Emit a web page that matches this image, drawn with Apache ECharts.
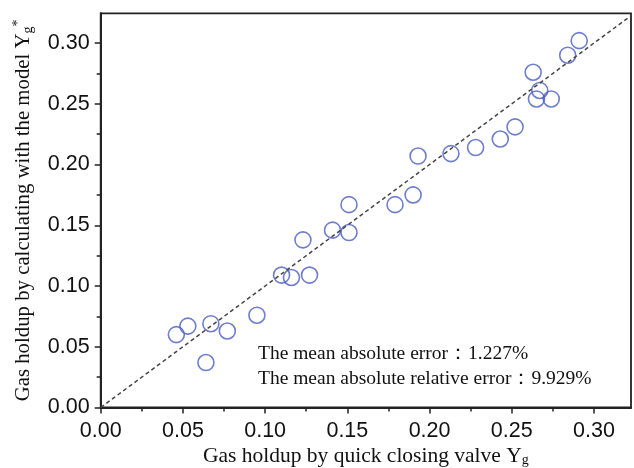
<!DOCTYPE html>
<html>
<head>
<meta charset="utf-8">
<script src="https://cdn.jsdelivr.net/npm/echarts@6/dist/echarts.min.js"></script>
<style>
  html, body { margin: 0; padding: 0; background: #fff; }
</style>
</head>
<body>
<div id="chart" style="width: 634px; height: 468px"></div>
<script>
// measured (quick closing valve) vs model gas holdup
const measured = [0.291, 0.284, 0.263, 0.267, 0.265, 0.274, 0.252, 0.243, 0.228, 0.213, 0.193, 0.190,
  0.179, 0.151, 0.141, 0.151, 0.123, 0.110, 0.116, 0.127, 0.095, 0.067, 0.077, 0.053, 0.046, 0.064];
const model = [0.302, 0.290, 0.276, 0.261, 0.254, 0.254, 0.231, 0.221, 0.214, 0.209, 0.207, 0.175,
  0.167, 0.167, 0.146, 0.144, 0.138, 0.109, 0.107, 0.109, 0.076, 0.069, 0.063, 0.067, 0.060, 0.037];
// y = x reference line
const diagonal = [[0, 0], [0.3225, 0.3225]];
const majorTicks = [0, 0.05, 0.1, 0.15, 0.2, 0.25, 0.3];
const minorTicks = [0.025, 0.075, 0.125, 0.175, 0.225, 0.275];
const notes = ["The mean absolute error：1.227%", "The mean absolute relative error：9.929%"];

const xMax = 0.3225;
const yMax = 0.3245;

const myChart = echarts.init(document.getElementById("chart"));

const serif = "'Liberation Serif', 'Times New Roman', serif";
const sans = "'Liberation Sans', Arial, sans-serif";

function mainAxis(max, name, rich, extra, labelMargin) {
  return Object.assign({
    type: "value",
    min: 0,
    max: max,
    name: name,
    nameLocation: "middle",
    nameTextStyle: { rich: rich },
    axisLine: { show: true, lineStyle: { color: "#222", width: 2 } },
    axisTick: { show: true, inside: false, length: 6, customValues: majorTicks, lineStyle: { color: "#222", width: 1.5 } },
    axisLabel: {
      customValues: majorTicks,
      color: "#111",
      fontFamily: sans,
      fontSize: 21.5,
      margin: labelMargin,
      formatter: (v) => v.toFixed(2),
    },
    splitLine: { show: false },
  }, extra);
}

// second overlapping axis only for minor ticks
function minorAxis(max, extra) {
  return Object.assign({
    type: "value",
    min: 0,
    max: max,
    axisLine: { show: false },
    axisTick: { show: true, inside: false, length: 4, customValues: minorTicks, lineStyle: { color: "#222", width: 1.5 } },
    axisLabel: { show: false },
    splitLine: { show: false },
  }, extra);
}

function nameRich(size) {
  return {
    n: { fontFamily: serif, fontSize: size, color: "#111" },
    sub: { fontFamily: serif, fontSize: 14, color: "#111", verticalAlign: "bottom", padding: [9, 0, 0, 0] },
    sup: { fontFamily: serif, fontSize: 14, color: "#111", verticalAlign: "top", padding: [0, 0, 10, 0] },
  };
}

let option = {
  backgroundColor: "#fff",
  animation: false,
  grid: {
    left: 100.7,
    right: 3,
    top: 13.3,
    bottom: 60.5,
    show: true,
    borderColor: "#222",
    borderWidth: 1.8,
    containLabel: false,
    outerBoundsMode: "none",
  },
  xAxis: [
    mainAxis(xMax, "{n|Gas holdup by quick closing valve Y}{sub|g}", nameRich(21.5),
      { nameGap: 37, nameMoveOverlap: false }, 13),
    minorAxis(xMax, { position: "bottom" }),
  ],
  yAxis: [
    mainAxis(yMax, "{n|Gas holdup by calculating with the model Y}{sub|g}{sup|*}", nameRich(20.8), { nameGap: 65 }, 11),
    minorAxis(yMax, { position: "left" }),
  ],
  graphic: notes.map((t, i) => ({
    type: "text",
    left: 258,
    top: 344 + i * 25,
    style: { text: t, font: "19.5px " + serif, fill: "#111" },
  })),
  series: [
    {
      type: "line",
      data: diagonal,
      showSymbol: false,
      silent: true,
      lineStyle: { color: "#444", width: 1.5, type: [4, 3] },
    },
    {
      type: "scatter",
      data: measured.map((x, i) => [x, model[i]]),
      symbol: "circle",
      symbolSize: 16,
      itemStyle: { color: "transparent", borderColor: "#4a5cbf", borderWidth: 1.6 },
    },
  ],
};

option && myChart.setOption(option);
</script>
</body>
</html>
